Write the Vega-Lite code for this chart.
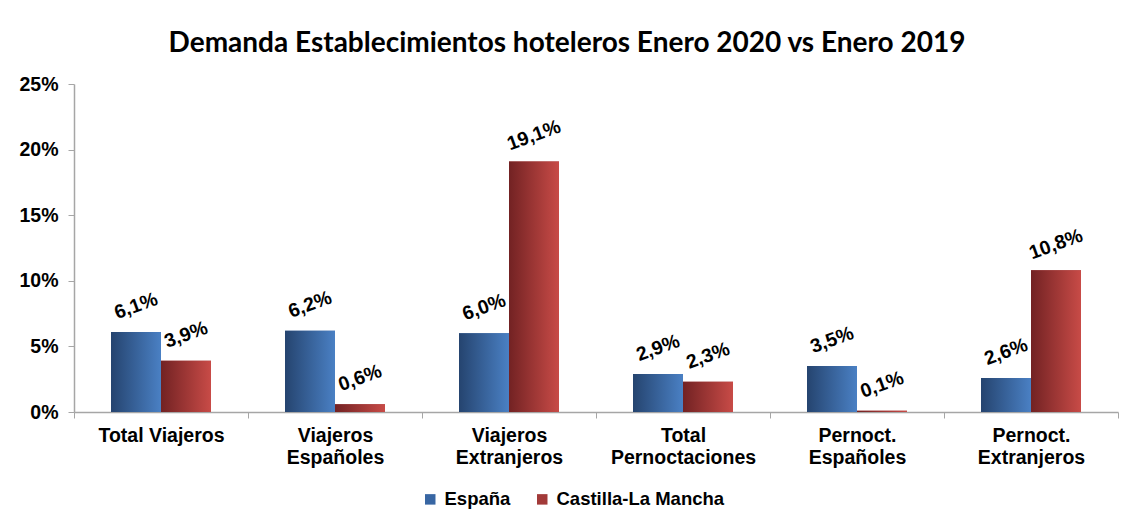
{
  "$schema": "https://vega.github.io/schema/vega-lite/v6.json",
  "width": 1044,
  "height": 328,
  "autosize": "none",
  "padding": {"left": 74, "top": 84, "right": 10, "bottom": 105},
  "background": "white",
  "title": {
    "text": "Demanda Establecimientos hoteleros Enero 2020 vs Enero 2019",
    "font": "Lato",
    "fontSize": 28,
    "fontWeight": "bold",
    "color": "black",
    "anchor": "middle",
    "dx": -29,
    "offset": 16
  },
  "config": {
    "locale": {"number": {"decimal": ",", "thousands": ".", "grouping": [3], "currency": ["", " €"]}},
    "view": {"stroke": null}
  },
  "data": {
    "values": [
      {"cat": "Total Viajeros", "serie": "España", "v": 0.061},
      {"cat": "Total Viajeros", "serie": "Castilla-La Mancha", "v": 0.039},
      {"cat": "Viajeros Españoles", "serie": "España", "v": 0.062},
      {"cat": "Viajeros Españoles", "serie": "Castilla-La Mancha", "v": 0.006},
      {"cat": "Viajeros Extranjeros", "serie": "España", "v": 0.060},
      {"cat": "Viajeros Extranjeros", "serie": "Castilla-La Mancha", "v": 0.191},
      {"cat": "Total Pernoctaciones", "serie": "España", "v": 0.029},
      {"cat": "Total Pernoctaciones", "serie": "Castilla-La Mancha", "v": 0.023},
      {"cat": "Pernoct. Españoles", "serie": "España", "v": 0.035},
      {"cat": "Pernoct. Españoles", "serie": "Castilla-La Mancha", "v": 0.001},
      {"cat": "Pernoct. Extranjeros", "serie": "España", "v": 0.026},
      {"cat": "Pernoct. Extranjeros", "serie": "Castilla-La Mancha", "v": 0.108}
    ]
  },
  "encoding": {
    "x": {
      "field": "cat",
      "type": "nominal",
      "sort": ["Total Viajeros", "Viajeros Españoles", "Viajeros Extranjeros", "Total Pernoctaciones", "Pernoct. Españoles", "Pernoct. Extranjeros"],
      "scale": {"paddingInner": 0, "paddingOuter": 0},
      "axis": {
        "title": null,
        "labelAngle": 0,
        "labelFont": "Liberation Sans",
        "labelFontSize": 19.5,
        "labelFontWeight": "bold",
        "labelColor": "black",
        "labelLineHeight": 22,
        "labelPadding": 8,
        "labelLimit": 300,
        "labelExpr": "!isValid(datum.value) ? '' : (datum.value == 'Total Viajeros' ? datum.value : split(datum.value, ' '))",
        "tickBand": "extent",
        "tickSize": 6,
        "tickColor": "#a6a6a6",
        "domainColor": "#a6a6a6",
        "domainWidth": 1.5
      }
    },
    "xOffset": {
      "field": "serie",
      "type": "nominal",
      "sort": ["España", "Castilla-La Mancha"],
      "scale": {"paddingInner": 0, "paddingOuter": 0.74}
    },
    "y": {
      "field": "v",
      "type": "quantitative",
      "scale": {"domain": [0, 0.25]},
      "axis": {
        "title": null,
        "values": [0, 0.05, 0.1, 0.15, 0.2, 0.25],
        "format": ".0%",
        "grid": false,
        "labelFont": "Liberation Sans",
        "labelFontSize": 19.5,
        "labelFontWeight": "bold",
        "labelColor": "black",
        "labelPadding": 10,
        "tickSize": 6,
        "tickColor": "#a6a6a6",
        "domainColor": "#a6a6a6",
        "domainWidth": 1.5
      }
    }
  },
  "layer": [
    {
      "mark": {"type": "bar"},
      "encoding": {
        "color": {
          "field": "serie",
          "type": "nominal",
          "sort": ["España", "Castilla-La Mancha"],
          "scale": {"domain": ["España", "Castilla-La Mancha"], "range": ["#3866a3", "#a23a39"]},
          "legend": {
            "title": null,
            "orient": "none",
            "direction": "horizontal",
            "legendX": 347,
            "legendY": 406,
            "symbolType": "square",
            "symbolSize": 110,
            "symbolStrokeWidth": 0,
            "labelFont": "Liberation Sans",
            "labelFontSize": 18.5,
            "labelFontWeight": "bold",
            "labelColor": "black",
            "labelLimit": 400,
            "columnPadding": 22,
            "labelOffset": 5,
            "padding": 0
          }
        }
      }
    },
    {
      "mark": {"type": "bar"},
      "encoding": {
        "fill": {
          "condition": {
            "test": "datum.serie == 'España'",
            "value": {"gradient": "linear", "x1": 0, "y1": 0, "x2": 1, "y2": 0, "stops": [{"offset": 0, "color": "#25446f"}, {"offset": 1, "color": "#4a80c4"}]}
          },
          "value": {"gradient": "linear", "x1": 0, "y1": 0, "x2": 1, "y2": 0, "stops": [{"offset": 0, "color": "#722223"}, {"offset": 1, "color": "#c84b47"}]}
        }
      }
    },
    {
      "mark": {
        "type": "text",
        "angle": -20,
        "font": "Liberation Sans",
        "fontSize": 19.5,
        "fontWeight": "bold",
        "color": "black",
        "baseline": "middle",
        "align": "center",
        "yOffset": -26
      },
      "encoding": {
        "text": {"field": "v", "type": "quantitative", "format": ".1%"}
      }
    }
  ]
}
